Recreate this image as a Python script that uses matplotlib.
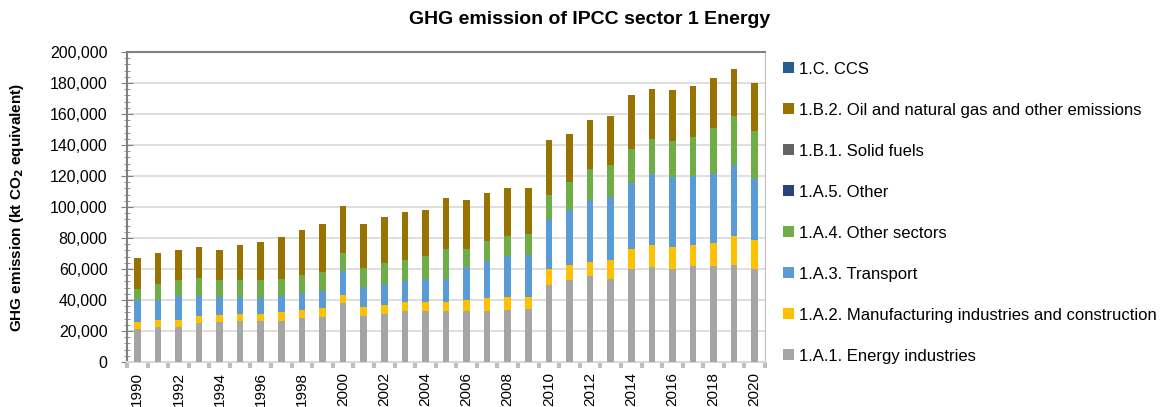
import numpy as np
import matplotlib.pyplot as plt
from matplotlib.ticker import MultipleLocator, FuncFormatter
from matplotlib.patches import Patch

plt.rcParams["font.family"] = ["Liberation Sans", "DejaVu Sans"]

years = list(range(1990, 2021))

# kt CO2 eq
energy_ind = [21200, 22500, 22500, 25100, 26000, 26200, 26200, 26400, 28100, 29000,
              38000, 29600, 30900, 32600, 32600, 32600, 32600, 32600, 33700, 34500,
              50000, 52600, 55200, 53600, 60300, 61600, 60300, 62200, 62200, 62900, 59900]
manufacturing = [4700, 4700, 4700, 4300, 4500, 4500, 4500, 5600, 5200, 5600,
                 5400, 6200, 6000, 6200, 6200, 6000, 7500, 8400, 8400, 7300,
                 9900, 9900, 9400, 12200, 12400, 13900, 13700, 13500, 14600, 18700, 18500]
transport = [14200, 12700, 15700, 13500, 11400, 11200, 10500, 10700, 11200, 11200,
             15200, 12400, 13300, 13700, 14800, 15000, 21500, 24000, 26200, 27500,
             32200, 35600, 40100, 40800, 42900, 46100, 45100, 44600, 44600, 45300, 39500]
other_sectors = [7300, 10300, 9700, 11200, 11200, 11200, 11400, 10700, 11400, 12000,
                 12000, 12400, 13500, 13500, 14800, 19100, 11400, 12900, 12900, 13100,
                 15700, 17800, 19500, 20400, 21500, 22500, 23400, 24700, 29800, 31500, 31300]
other_1a5 = [0] * 31     # too small to see at this scale
solid_fuels = [0] * 31
oil_gas = [19500, 20400, 19700, 20400, 19300, 22500, 24500, 27500, 29400, 31100,
           30000, 28500, 30000, 30700, 29600, 32800, 31500, 31300, 31100, 30000,
           35400, 31100, 31800, 32000, 35000, 32200, 32800, 32800, 32000, 30500, 30500]
ccs = [0] * 31

series = [
    ("1.A.1. Energy industries", energy_ind, "#A5A5A5"),
    ("1.A.2. Manufacturing industries and construction", manufacturing, "#FFC000"),
    ("1.A.3. Transport", transport, "#5B9BD5"),
    ("1.A.4. Other sectors", other_sectors, "#70AD47"),
    ("1.A.5. Other", other_1a5, "#264478"),
    ("1.B.1. Solid fuels", solid_fuels, "#636363"),
    ("1.B.2. Oil and natural gas and other emissions", oil_gas, "#997300"),
    ("1.C. CCS", ccs, "#255E91"),
]

fig = plt.figure(figsize=(11.67, 4.07), dpi=100)
ax = fig.add_axes([127 / 1167, 45 / 407, 638 / 1167, 310 / 407])

x = np.arange(len(years))
bottom = np.zeros(len(years))
for label, vals, col in series:
    v = np.array(vals, dtype=float)
    ax.bar(x, v, 0.32, bottom=bottom, color=col, edgecolor="none", zorder=3)
    bottom += v

ax.set_xlim(-0.5, len(years) - 0.5)
ax.set_ylim(0, 200000)
ax.yaxis.set_major_locator(MultipleLocator(20000))
ax.yaxis.set_minor_locator(MultipleLocator(4000))
ax.yaxis.set_major_formatter(FuncFormatter(lambda v, p: f"{int(v):,}"))
ax.grid(axis="y", color="#D9D9D9", lw=1.2, zorder=0)
ax.tick_params(axis="y", which="major", direction="inout", length=8, color="#808080",
               labelsize=11.5, pad=10)
ax.tick_params(axis="y", which="minor", direction="inout", length=5, color="#808080")

ax.set_xticks(x[::2])
ax.set_xticklabels([str(y) for y in years[::2]], rotation=90, fontsize=11)
ax.set_xticks(np.arange(-0.5, len(years)), minor=True)
ax.tick_params(axis="x", which="major", length=0, pad=7)
ax.tick_params(axis="x", which="minor", direction="out", length=4, color="#BFBFBF", width=3)

for s in ["left", "top"]:
    ax.spines[s].set_color("#808080")
    ax.spines[s].set_linewidth(1.5)
ax.spines["bottom"].set_color("#D9D9D9")
ax.spines["bottom"].set_linewidth(1.5)
ax.spines["right"].set_color("#BFBFBF")

ax.set_ylabel(r"GHG emission (kt CO$_\mathbf{2}$ equivalent)", fontsize=11, fontweight="bold")
ax.yaxis.set_label_coords(-(127 - 26) / 638, 0.5)
fig.text(590 / 1167, 1 - 20 / 407, "GHG emission of IPCC sector 1 Energy",
         ha="center", va="center", fontsize=14, fontweight="bold")

handles = [Patch(facecolor=c, edgecolor="none", label=l) for l, _, c in series[::-1]]
fig.legend(handles=handles, loc="upper left", bbox_to_anchor=(776 / 1167, 1 - 55 / 407),
           frameon=False, fontsize=12, handlelength=0.65, handleheight=0.65,
           handletextpad=0.35, labelspacing=1.56, borderaxespad=0)

fig.savefig("out.png", dpi=100)
